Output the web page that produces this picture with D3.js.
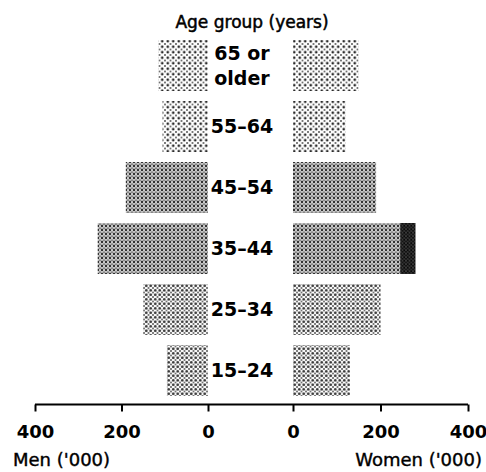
<!DOCTYPE html>
<html>
<head>
<meta charset="utf-8">
<script src="https://cdn.jsdelivr.net/npm/d3@7"></script>
<style>
  html, body { margin: 0; padding: 0; background: #fff; }
  svg { display: block; font-family: "DejaVu Sans", sans-serif; }
</style>
</head>
<body>
<svg id="chart" width="486" height="472"></svg>
<script>
// ---- data ----
const ageGroups = ["65 or older", "55–64", "45–54", "35–44", "25–34", "15–24"];
const ageLabelLines = [["65 or", "older"], ["55–64"], ["45–54"], ["35–44"], ["25–34"], ["15–24"]];
const men = [115, 105, 190, 255, 150, 95];
const women = [150, 120, 190, 245, 200, 130];
const womenExtra = [0, 0, 0, 35, 0, 0];
const shade = ["light", "light", "dense", "dense", "medium", "medium"];
const tickValues = [0, 200, 400];

// ---- layout ----
const svg = d3.select("#chart");
const axisY = 404.5;

const y = d3.scaleBand().domain(ageGroups).range([40, 396]).paddingInner(0.164).paddingOuter(0);
const xMen = d3.scaleLinear().domain([0, 400]).range([208, 35]);
const xWomen = d3.scaleLinear().domain([0, 400]).range([293, 468]);

// halftone-like patterns
const defs = svg.append("defs");
function dotPattern(id, size, r, col) {
  const p = defs.append("pattern").attr("id", id).attr("patternUnits", "userSpaceOnUse")
    .attr("width", size).attr("height", size);
  p.append("rect").attr("width", size).attr("height", size).attr("fill", "#fff");
  p.append("circle").attr("cx", size / 2).attr("cy", size / 2).attr("r", r).attr("fill", col);
  [[0, 0], [size, 0], [0, size], [size, size]].forEach(([cx, cy]) =>
    p.append("circle").attr("cx", cx).attr("cy", cy).attr("r", r * 0.6).attr("fill", col));
}
dotPattern("light", 5.5, 1.35, "#2a2a2a");
dotPattern("medium", 4.5, 1.4, "#333");
dotPattern("dense", 4, 1.45, "#333");
dotPattern("dark", 3.5, 1.7, "#0a0a0a");

const rows = ageGroups.map((g, i) => ({ g, i, m: men[i], w: women[i], wx: womenExtra[i], s: shade[i] }));

// men bars
svg.append("g").selectAll("rect").data(rows).join("rect")
  .attr("x", d => xMen(d.m))
  .attr("y", d => y(d.g))
  .attr("width", d => xMen(0) - xMen(d.m))
  .attr("height", y.bandwidth())
  .attr("fill", d => `url(#${d.s})`);

// women bars
svg.append("g").selectAll("rect").data(rows).join("rect")
  .attr("x", xWomen(0))
  .attr("y", d => y(d.g))
  .attr("width", d => xWomen(d.w) - xWomen(0))
  .attr("height", y.bandwidth())
  .attr("fill", d => `url(#${d.s})`);

// women extra (dark) segment
svg.append("g").selectAll("rect").data(rows.filter(d => d.wx > 0)).join("rect")
  .attr("x", d => xWomen(d.w))
  .attr("y", d => y(d.g))
  .attr("width", d => xWomen(d.w + d.wx) - xWomen(d.w))
  .attr("height", y.bandwidth())
  .attr("fill", "url(#dark)");

// age labels
const lab = svg.append("g").attr("font-weight", "bold").attr("font-size", 19).attr("fill", "#000")
  .attr("text-anchor", "middle");
rows.forEach(d => {
  const lines = ageLabelLines[d.i];
  const cy = y(d.g) + y.bandwidth() / 2;
  lines.forEach((t, k) => {
    lab.append("text")
      .attr("x", 242)
      .attr("y", cy + (k - (lines.length - 1) / 2) * 25)
      .attr("dy", "0.36em")
      .text(t);
  });
});

// title
svg.append("text").attr("x", 252).attr("y", 28).attr("text-anchor", "middle")
  .attr("font-size", 17).attr("fill", "#000").attr("stroke", "#000").attr("stroke-width", 0.5)
  .text("Age group (years)");

// axes
function drawAxis(scale) {
  const ax = d3.axisBottom(scale).tickValues(tickValues).tickSize(7).tickPadding(14)
    .tickFormat(d3.format("d"));
  const g = svg.append("g").attr("transform", `translate(0,${axisY})`).call(ax);
  g.select(".domain").remove();
  g.selectAll(".tick line").attr("stroke", "#000").attr("stroke-width", 2);
  g.selectAll(".tick text").attr("font-family", "DejaVu Sans, sans-serif")
    .attr("font-size", 18).attr("font-weight", "bold").attr("fill", "#000");
  return g;
}
drawAxis(xMen);
drawAxis(xWomen);
svg.append("line").attr("x1", xMen(400)).attr("x2", xWomen(400))
  .attr("y1", axisY).attr("y2", axisY).attr("stroke", "#000").attr("stroke-width", 2);

// axis titles
svg.append("text").attr("x", 13).attr("y", 466).attr("font-size", 18).attr("fill", "#000")
  .attr("stroke", "#000").attr("stroke-width", 0.4).text("Men ('000)");
svg.append("text").attr("x", 482).attr("y", 466).attr("text-anchor", "end")
  .attr("font-size", 18).attr("fill", "#000").attr("stroke", "#000").attr("stroke-width", 0.4)
  .text("Women ('000)");
</script>
</body>
</html>
